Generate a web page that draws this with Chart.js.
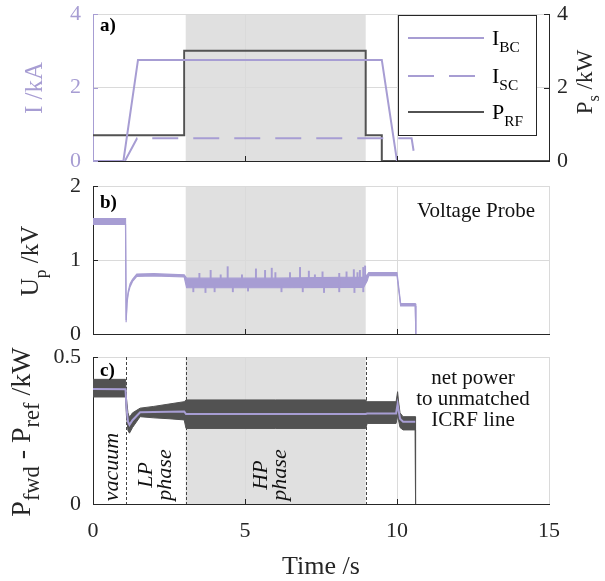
<!DOCTYPE html>
<html><head><meta charset="utf-8">
<script src="https://cdn.jsdelivr.net/npm/chart.js@4"></script>
<style>
html,body{margin:0;padding:0;background:#fff;}
#wrap{position:relative;width:605px;height:581px;overflow:hidden;}
canvas{position:absolute;left:0;}
</style></head><body>
<div id="wrap">
<canvas id="ca" width="605" height="175" style="top:0px"></canvas>
<canvas id="cb" width="605" height="170" style="top:175px"></canvas>
<canvas id="cc" width="605" height="236" style="top:345px"></canvas>
</div>
<script>
// ---------- data ----------
// phase boundaries (s): vacuum | LP | HP | ...
const PHASE_T = [1.08, 3.05, 8.97];

// panel a) coil currents (kA) and RF power (kW)
const T_IBC = [0, 1.0, 1.48, 9.5, 10.0];
const I_BC  = [0, 0, 2.75, 2.75, 0];
const T_ISC = [1.05, 1.45, 10.48, 10.6];
const I_SC  = [0, 0.62, 0.62, 0];
const T_PRF = [0, 3.0, 3.0, 8.97, 8.97, 9.5, 9.5, 15];
const P_RF  = [0.7, 0.7, 3.0, 3.0, 0.7, 0.7, 0, 0];

// panel b) voltage probe (kV): signal envelope
const T_UP  = [0, 1.07, 1.09, 1.12, 1.16, 1.22, 1.3, 1.44, 2.0, 3.0, 3.08, 6.0, 8.9, 9.02, 9.07, 10.0, 10.12, 10.6, 10.62];
const UP_HI = [1.56, 1.56, 0.19, 0.45, 0.58, 0.68, 0.74, 0.81, 0.815, 0.80, 0.755, 0.755, 0.77, 0.80, 0.83, 0.83, 0.41, 0.41, 0];
const UP_LO = [1.48, 1.48, 0.16, 0.42, 0.55, 0.64, 0.71, 0.78, 0.785, 0.77, 0.625, 0.625, 0.63, 0.72, 0.79, 0.79, 0.38, 0.38, 0];
// panel b) spikes during HP phase
const SPIKE_T  = [3.3, 3.5, 3.7, 3.87, 4.0, 4.2, 4.43, 4.6, 4.9, 5.1, 5.36, 5.66, 5.88, 6.0, 6.2, 6.48, 6.81, 6.9, 7.1, 7.3, 7.55, 7.6, 8.1, 8.34, 8.58, 8.6, 8.7, 8.78, 8.89, 8.95];
const SPIKE_LO = [0.57, 0.74, 0.56, 0.74, 0.57, 0.74, 0.74, 0.57, 0.74, 0.58, 0.74, 0.74, 0.74, 0.74, 0.57, 0.74, 0.74, 0.57, 0.74, 0.74, 0.74, 0.56, 0.57, 0.74, 0.74, 0.56, 0.74, 0.74, 0.57, 0.74];
const SPIKE_HI = [0.64, 0.82, 0.64, 0.86, 0.64, 0.80, 0.91, 0.64, 0.80, 0.64, 0.88, 0.86, 0.89, 0.83, 0.64, 0.83, 0.90, 0.64, 0.85, 0.80, 0.84, 0.64, 0.82, 0.84, 0.87, 0.64, 0.83, 0.86, 0.90, 0.92];

// panel c) net power (kW): mean and noise envelope
const T_NP    = [0, 1.07, 1.1, 1.15, 1.2, 1.3, 1.55, 2.0, 2.5, 3.0, 3.06, 6.0, 8.97, 9.02, 9.97, 10.02, 10.05, 10.1, 10.2, 10.6, 10.61];
const NP_MEAN = [0.391, 0.39, 0.33, 0.28, 0.269, 0.285, 0.312, 0.313, 0.314, 0.315, 0.306, 0.306, 0.306, 0.308, 0.308, 0.34, 0.32, 0.29, 0.28, 0.28, null];
const NP_HI   = [0.424, 0.424, 0.36, 0.31, 0.295, 0.31, 0.326, 0.332, 0.34, 0.348, 0.354, 0.354, 0.354, 0.348, 0.348, 0.382, 0.35, 0.31, 0.297, 0.297, 0];
const NP_LO   = [0.364, 0.364, 0.30, 0.25, 0.241, 0.26, 0.297, 0.293, 0.29, 0.286, 0.257, 0.257, 0.257, 0.274, 0.274, 0.30, 0.285, 0.26, 0.252, 0.252, 0];

// axis tick values
const X_TICKS = [0, 5, 10, 15];

// ---------- styling ----------
const SERIF = '"Liberation Serif", "DejaVu Serif", serif';
const LAV = '#a79dd3';
const DARK = '#525252';
const AXIS = '#262626';
const GRID = '#dadada';
const SHADE = '#e0e0e0';
const SUB = 0.7;

const pts = (t, v) => t.map((x, i) => ({x, y: v[i]}));

function drawRich(ctx, text, x, y, o) {
  const segs = [];
  const re = /_\{([^}]*)\}/g; let last = 0, m;
  while ((m = re.exec(text))) {
    if (m.index > last) segs.push({t: text.slice(last, m.index)});
    segs.push({t: m[1], sub: true});
    last = re.lastIndex;
  }
  if (last < text.length) segs.push({t: text.slice(last)});
  ctx.save();
  ctx.translate(x, y); ctx.rotate(o.rot || 0);
  ctx.fillStyle = o.color || AXIS;
  ctx.textBaseline = 'alphabetic'; ctx.textAlign = 'left';
  const fnt = s => `${o.style || ''} ${s.sub ? o.size * (o.sub || SUB) : o.size}px ${SERIF}`;
  let w = 0; const ws = [];
  segs.forEach(s => { ctx.font = fnt(s); const mw = ctx.measureText(s.t).width; ws.push(mw); w += mw; });
  let cx = o.align === 'center' ? -w / 2 : o.align === 'right' ? -w : 0;
  segs.forEach((s, i) => { ctx.font = fnt(s); ctx.fillText(s.t, cx, s.sub ? o.size * 0.32 : 0); cx += ws[i]; });
  ctx.restore();
}

function xScale(height, labels) {
  return {
    type: 'linear', min: 0, max: 15, offset: false,
    afterBuildTicks: s => { s.ticks = X_TICKS.map(v => ({value: v})); },
    ticks: {display: labels, color: AXIS, font: {family: SERIF, size: 22}, padding: 14, maxRotation: 0},
    grid: {color: GRID, lineWidth: 1, drawTicks: false, offset: false},
    border: {color: AXIS, width: 1},
    title: labels ? {display: true, text: 'Time /s', color: AXIS, font: {family: SERIF, size: 26, lineHeight: 1.1}, padding: {top: 0, bottom: 0}} : {display: false},
    afterFit: s => { s.height = height; s.paddingLeft = 0; s.paddingRight = 0; }
  };
}
function yScale(min, max, step, color, pos, width, grid) {
  return {
    type: 'linear', min, max, position: pos,
    ticks: {stepSize: step, color, font: {family: SERIF, size: 22}, padding: pos === 'left' ? 12 : 8},
    grid: {color: GRID, lineWidth: 1, drawTicks: false, drawOnChartArea: grid},
    border: {color, width: 1},
    afterFit: s => { s.width = width; s.paddingTop = 0; s.paddingBottom = 0; }
  };
}

function decoPlugin(cfg) {
  return {
    id: 'deco',
    beforeDraw(chart) {
      const {ctx, chartArea: a, scales: {x}} = chart;
      ctx.save();
      ctx.fillStyle = SHADE;
      const x0 = x.getPixelForValue(PHASE_T[1]), x1 = x.getPixelForValue(PHASE_T[2]);
      ctx.fillRect(x0, a.top, x1 - x0, a.bottom - a.top);
      ctx.restore();
    },
    beforeDatasetsDraw(chart) {
      if (!cfg.dashed) return;
      const {ctx, chartArea: a, scales: {x}} = chart;
      ctx.save();
      ctx.strokeStyle = '#444'; ctx.lineWidth = 1; ctx.setLineDash([3, 2]);
      PHASE_T.forEach(t => {
        const px = Math.round(x.getPixelForValue(t)) + 0.5;
        ctx.beginPath(); ctx.moveTo(px, a.top); ctx.lineTo(px, a.bottom); ctx.stroke();
      });
      ctx.restore();
    },
    afterDraw(chart) {
      const {ctx, chartArea: a, scales} = chart;
      // inward tick marks
      ctx.save(); ctx.lineWidth = 1;
      ctx.strokeStyle = AXIS;
      X_TICKS.slice(1, -1).forEach(v => {
        const px = Math.round(scales.x.getPixelForValue(v)) + 0.5;
        ctx.beginPath(); ctx.moveTo(px, a.bottom); ctx.lineTo(px, a.bottom - 5); ctx.stroke();
      });
      ctx.strokeStyle = cfg.yColor || AXIS;
      scales.y.ticks.forEach(t => {
        const py = Math.round(scales.y.getPixelForValue(t.value)) + 0.5;
        ctx.beginPath(); ctx.moveTo(a.left, py); ctx.lineTo(a.left + 5, py); ctx.stroke();
      });
      if (scales.y2) {
        ctx.strokeStyle = AXIS;
        scales.y2.ticks.forEach(t => {
          const py = Math.round(scales.y2.getPixelForValue(t.value)) + 0.5;
          ctx.beginPath(); ctx.moveTo(a.right, py); ctx.lineTo(a.right - 5, py); ctx.stroke();
        });
      }
      ctx.restore();
      // axis titles
      (cfg.titles || []).forEach(tt => drawRich(ctx, tt.text, tt.x, tt.y, {size: tt.size, color: tt.color, rot: -Math.PI / 2, align: 'center', sub: tt.sub}));
      // panel letter
      drawRich(ctx, cfg.letter, a.left + 7, cfg.letterY, {size: 19, style: 'bold', color: '#000'});
      (cfg.texts || []).forEach(tt => drawRich(ctx, tt.text, tt.x, tt.y, {size: tt.size, color: '#111', style: tt.style, rot: tt.rot || 0, align: tt.align}));
      if (cfg.legend) cfg.legend(ctx);
    }
  };
}

// make the plot area land exactly where wanted
function place(chart, top, bottom) {
  const p = chart.options.layout.padding;
  for (let i = 0; i < 4; i++) {
    const a = chart.chartArea;
    const dt = top - a.top, db = a.bottom - bottom;
    if (Math.abs(dt) < 0.3 && Math.abs(db) < 0.3) break;
    p.top = Math.max(0, p.top + dt);
    p.bottom = Math.max(0, p.bottom + db);
    chart.update();
  }
}

const common = {
  responsive: false, animation: false, events: [],
  plugins: {legend: {display: false}, tooltip: {enabled: false}},
  elements: {point: {radius: 0, hoverRadius: 0}, line: {tension: 0}}
};

// ---------- chart a ----------
const chartA = new Chart(document.getElementById('ca'), {
  type: 'line',
  data: {datasets: [
    {label: 'I_{BC}', data: pts(T_IBC, I_BC), borderColor: LAV, borderWidth: 2, yAxisID: 'y'},
    {label: 'I_{SC}', data: pts(T_ISC, I_SC), borderColor: LAV, borderWidth: 2, borderDash: [26, 15], yAxisID: 'y'},
    {label: 'P_{RF}', data: pts(T_PRF, P_RF), borderColor: DARK, borderWidth: 2, yAxisID: 'y2'}
  ]},
  options: Object.assign({}, common, {
    layout: {autoPadding: false, padding: {top: 14, right: 0, left: 0, bottom: 0}},
    scales: {
      x: xScale(14, false),
      y: yScale(0, 4, 2, LAV, 'left', 93, true),
      y2: yScale(0, 4, 2, AXIS, 'right', 56, false)
    }
  }),
  plugins: [decoPlugin({
    letter: 'a)', letterY: 31, yColor: LAV,
    titles: [
      {text: 'I /kA', x: 42, y: 88, size: 25, color: LAV},
      {text: 'P_{s} /kW', x: 592, y: 82, size: 23, color: AXIS}
    ],
    legend(ctx) {
      ctx.save();
      ctx.fillStyle = '#fff'; ctx.fillRect(398, 15, 139, 121);
      ctx.strokeStyle = AXIS; ctx.lineWidth = 1; ctx.strokeRect(398.5, 15.5, 138, 120);
      const items = [
        {text: 'I_{BC}', color: LAV, dash: [], y: 38},
        {text: 'I_{SC}', color: LAV, dash: [26, 15], y: 76},
        {text: 'P_{RF}', color: DARK, dash: [], y: 112}
      ];
      items.forEach(it => {
        ctx.strokeStyle = it.color; ctx.lineWidth = 2; ctx.setLineDash(it.dash);
        ctx.beginPath(); ctx.moveTo(408, it.y); ctx.lineTo(484, it.y); ctx.stroke();
        ctx.setLineDash([]);
        drawRich(ctx, it.text, 492, it.y + 7, {size: 22, color: '#000'});
      });
      ctx.restore();
    }
  })]
});
place(chartA, 14, 161);

// ---------- chart b ----------
const chartB = new Chart(document.getElementById('cb'), {
  type: 'line',
  data: {datasets: [
    {type: 'bar', label: 'spikes', data: SPIKE_T.map((t, i) => ({x: t, y: [SPIKE_LO[i], SPIKE_HI[i]]})), backgroundColor: LAV, barThickness: 1.3, borderWidth: 0},
    {label: 'U_p max', data: pts(T_UP, UP_HI), borderColor: LAV, borderWidth: 1.2, backgroundColor: LAV, fill: '+1'},
    {label: 'U_p min', data: pts(T_UP, UP_LO), borderColor: LAV, borderWidth: 1.2}
  ]},
  options: Object.assign({}, common, {
    layout: {autoPadding: false, padding: {top: 11, right: 56, left: 0, bottom: 0}},
    scales: {
      x: xScale(11, false),
      y: yScale(0, 2, 1, AXIS, 'left', 93, true)
    }
  }),
  plugins: [decoPlugin({
    letter: 'b)', letterY: 33,
    titles: [{text: 'U_{p} /kV', x: 38, y: 86, size: 25, color: AXIS}],
    texts: [{text: 'Voltage Probe', x: 535, y: 42, size: 21, align: 'right'}]
  })]
});
place(chartB, 11, 159);

// ---------- chart c ----------
const chartC = new Chart(document.getElementById('cc'), {
  type: 'line',
  data: {datasets: [
    {label: 'mean', data: pts(T_NP, NP_MEAN), borderColor: LAV, borderWidth: 2},
    {label: 'max', data: pts(T_NP, NP_HI), borderColor: DARK, borderWidth: 1, backgroundColor: DARK, fill: '+1'},
    {label: 'min', data: pts(T_NP, NP_LO), borderColor: DARK, borderWidth: 1}
  ]},
  options: Object.assign({}, common, {
    layout: {autoPadding: false, padding: {top: 12, right: 56, left: 0, bottom: 0}},
    scales: {
      x: xScale(77, true),
      y: yScale(0, 0.5, 0.5, AXIS, 'left', 93, true)
    }
  }),
  plugins: [decoPlugin({
    letter: 'c)', letterY: 31, dashed: true,
    titles: [{text: 'P_{fwd} - P_{ref} /kW', x: 30, y: 87, size: 28, color: AXIS, sub: 0.8}],
    texts: [
      {text: 'net power', x: 473, y: 38.5, size: 21, align: 'center'},
      {text: 'to unmatched', x: 473, y: 59.5, size: 21, align: 'center'},
      {text: 'ICRF line', x: 473, y: 80.5, size: 21, align: 'center'},
      {text: 'vacuum', x: 118, y: 122, size: 22, style: 'italic', rot: -Math.PI / 2, align: 'center'},
      {text: 'LP', x: 152, y: 130, size: 22, style: 'italic', rot: -Math.PI / 2, align: 'center'},
      {text: 'phase', x: 171, y: 130, size: 22, style: 'italic', rot: -Math.PI / 2, align: 'center'},
      {text: 'HP', x: 267, y: 130, size: 22, style: 'italic', rot: -Math.PI / 2, align: 'center'},
      {text: 'phase', x: 286, y: 130, size: 22, style: 'italic', rot: -Math.PI / 2, align: 'center'}
    ]
  })]
});
place(chartC, 12, 159);
</script></body></html>
